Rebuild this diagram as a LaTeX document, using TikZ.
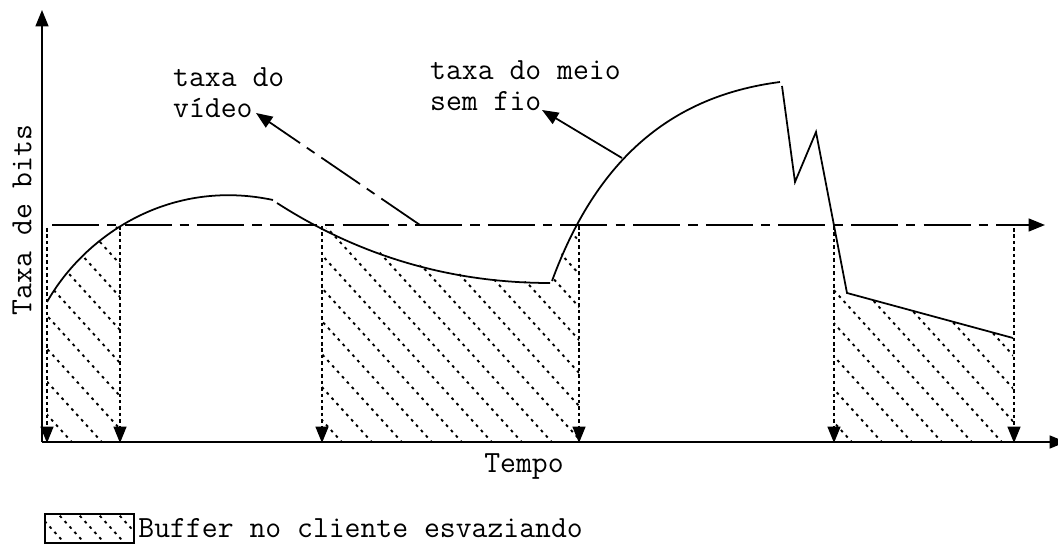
\documentclass[tikz,border=0pt]{standalone}
\usepackage{fontspec}
\usetikzlibrary{arrows.meta}
\tikzset{
  tip/.style={-{Triangle[length=14pt,width=11pt]}},
  axis/.style={line width=1.6pt, tip},
  rate/.style={line width=1.5pt},
  vidrate/.style={line width=1.5pt, dash pattern=on 40pt off 7pt on 8pt off 7pt},
  drop/.style={line width=1.5pt, dash pattern=on 3pt off 2.5pt, tip},
  hatch/.style={line width=1.6pt, dash pattern=on 2.4pt off 3.8pt},
  lbl/.style={font=\ttfamily\fontsize{26.3}{26.5}\selectfont, inner sep=0pt},
}

\begin{document}
\begin{tikzpicture}[x=0.03cm, y=-0.03cm]
    \useasboundingbox (0,0) rectangle (1058,544);

    \coordinate (o) at (42,442);
    \coordinate (ytop) at (42,10);
    \coordinate (xend) at (1066,442);

    % buffer emptying: hatched areas under the wireless rate
    \begin{scope}
        \clip (47,442) -- (47,302) -- (67,272) -- (88,248) -- (120,224) -- (120,442) -- cycle
              (322,226) -- (367,247) -- (420,265) -- (480,278) -- (550,283) -- (563,250) -- (579,226) -- (579,442) -- (322,442) -- cycle
              (834,288) -- (847,293) -- (1013,338) -- (1013,442) -- (834,442) -- cycle;
        \foreach \k in {0,...,42}
            \draw[hatch] ({\k*30-420},0) -- ++(500,550);
    \end{scope}

    \draw[axis] (o) -- (ytop);
    \draw[axis] (o) -- (xend);

    % video rate
    \coordinate (v0) at (52,225);
    \coordinate (v1) at (1045,225);
    \draw[vidrate, tip] (v0) -- (v1);

    % wireless rate
    \draw[rate] (47,302) .. controls (85,235) and (170,178) .. (273,200);
    \draw[rate] (277,203) .. controls (350,250) and (440,283) .. (550,283);
    \draw[rate] (552,281) .. controls (600,150) and (680,95) .. (780,82);
    \draw[rate] (782,86) -- (795,182) -- (816,132) -- (847,293) -- (1013,338);

    % drops to the time axis
    \foreach \x/\y [count=\i] in {47/228, 120/226, 322/226, 579/226, 834/226, 1014/228} {
        \coordinate (t\i) at (\x,\y);
        \coordinate (b\i) at (\x,443);
        \draw[drop] (t\i) -- (b\i);
    }

    % labels
    \node[lbl, anchor=base west, align=left] (vidlbl) at (173,118) {taxa do\\vídeo};
    \node[lbl, anchor=base west, align=left] (meiolbl) at (430,111) {taxa do meio\\sem fio};
    \node[lbl] (tempo) at (524,467) {Tempo};
    \node[lbl, rotate=90] (bits) at (22,220) {Taxa de bits};

    \coordinate (vp) at (420,225);
    \coordinate (vtip) at (256,113);
    \draw[vidrate, tip] (vp) -- (vtip);
    \coordinate (mp) at (622,158);
    \coordinate (mtip) at (542,110);
    \draw[rate, tip] (mp) -- (mtip);

    % legend
    \node[draw, line width=1.2pt, inner sep=0pt, minimum width=2.67cm, minimum height=0.87cm] (legbox) at (89.5,528.5) {};
    \begin{scope}
        \clip (legbox.south west) rectangle (legbox.north east);
        \foreach \k in {0,...,9}
            \draw[hatch] ({\k*20-10},505) -- ++(40,44);
    \end{scope}
    \node[lbl, anchor=west, xshift=3pt] (legtxt) at (legbox.east) {Buffer no cliente esvaziando};
\end{tikzpicture}
\end{document}
